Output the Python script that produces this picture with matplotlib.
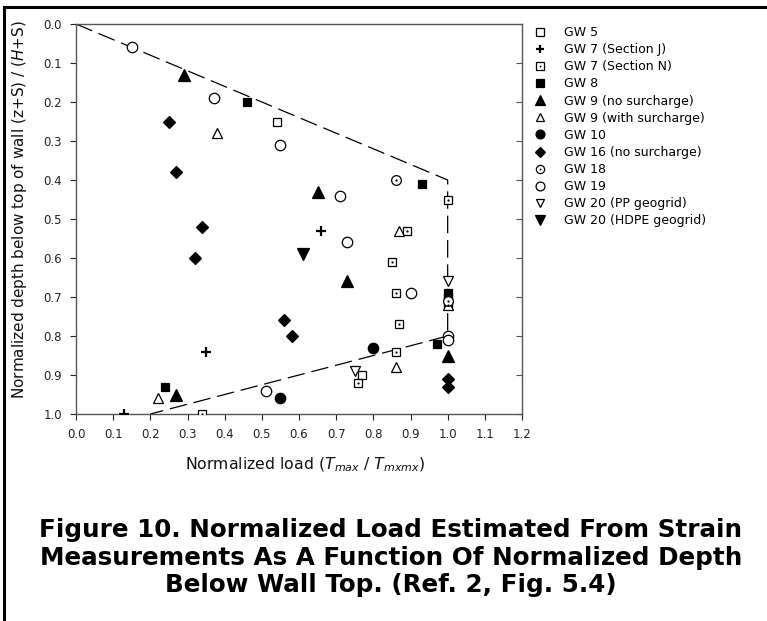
import matplotlib
matplotlib.use('Agg')
import matplotlib.pyplot as plt
from matplotlib.lines import Line2D
from matplotlib.legend_handler import HandlerTuple

plt.rcParams['font.family'] = ['DejaVu Sans']
plt.rcParams['mathtext.fontset'] = 'dejavusans'

# Data (x = normalized load, y = normalized depth)
gw5_x = [0.54, 0.77, 1.00]
gw5_y = [0.25, 0.90, 0.70]
gw7j_x = [0.13, 0.35, 0.66]
gw7j_y = [1.00, 0.84, 0.53]
gw7n_x = [1.00, 0.34, 0.89, 0.85, 0.86, 0.87, 0.86, 0.76, 1.00]
gw7n_y = [0.45, 1.00, 0.53, 0.61, 0.69, 0.77, 0.84, 0.92, 0.72]
gw8_x = [0.46, 0.93, 1.00, 1.00, 0.97, 0.24]
gw8_y = [0.20, 0.41, 0.69, 0.71, 0.82, 0.93]
gw9n_x = [0.29, 0.65, 0.73, 1.00, 0.27]
gw9n_y = [0.13, 0.43, 0.66, 0.85, 0.95]
gw9s_x = [0.38, 0.87, 0.86, 0.22, 1.00]
gw9s_y = [0.28, 0.53, 0.88, 0.96, 0.72]
gw10_x = [0.80, 0.55]
gw10_y = [0.83, 0.96]
gw16_x = [0.25, 0.27, 0.34, 0.32, 0.56, 0.58, 1.00, 1.00]
gw16_y = [0.25, 0.38, 0.52, 0.60, 0.76, 0.80, 0.91, 0.93]
gw18_x = [0.86, 1.00]
gw18_y = [0.40, 0.71]
gw19_x = [0.15, 0.37, 0.55, 0.71, 0.73, 0.90, 1.00, 1.00, 0.51]
gw19_y = [0.06, 0.19, 0.31, 0.44, 0.56, 0.69, 0.80, 0.81, 0.94]
gw20pp_x = [1.00, 0.75]
gw20pp_y = [0.66, 0.89]
gw20hd_x = [0.61]
gw20hd_y = [0.59]

# envelope (dashed)
env_x = [0.0, 1.0, 1.0, 0.2]
env_y = [0.0, 0.4, 0.8, 1.0]

x_ticks = [0.0, 0.1, 0.2, 0.3, 0.4, 0.5, 0.6, 0.7, 0.8, 0.9, 1.0, 1.1, 1.2]
y_ticks = [0.0, 0.1, 0.2, 0.3, 0.4, 0.5, 0.6, 0.7, 0.8, 0.9, 1.0]

W, H = 767, 621
fig = plt.figure(figsize=(W / 100, H / 100), dpi=100)
ax = fig.add_axes([76 / W, 1 - 414 / H, (522 - 76) / W, (414 - 24) / H])

ax.plot(env_x, env_y, color='black', lw=0.9, dashes=(14, 5.5), zorder=1)

def pts(x, y, marker, ms, filled, mew=0.9):
    return ax.plot(x, y, linestyle='none', marker=marker, ms=ms,
                   mfc='black' if filled else 'white', mec='black',
                   mew=mew, zorder=3)[0]

def dots(x, y):
    return ax.plot(x, y, linestyle='none', marker='o', ms=1.6,
                   mfc='black', mec='black', mew=0, zorder=4)[0]

h5 = pts(gw5_x, gw5_y, 's', 6, False)
h7j = pts(gw7j_x, gw7j_y, '+', 7, True, mew=1.6)
h7n = pts(gw7n_x, gw7n_y, 's', 6, False)
d7n = dots(gw7n_x, gw7n_y)
h8 = pts(gw8_x, gw8_y, 's', 6, True)
h9n = pts(gw9n_x, gw9n_y, '^', 8.5, True)
h9s = pts(gw9s_x, gw9s_y, '^', 7.5, False)
h10 = pts(gw10_x, gw10_y, 'o', 7.5, True)
h16 = pts(gw16_x, gw16_y, 'D', 6.5, True)
h18 = pts(gw18_x, gw18_y, 'o', 7, False)
d18 = dots(gw18_x, gw18_y)
h19 = pts(gw19_x, gw19_y, 'o', 7.5, False)
h20p = pts(gw20pp_x, gw20pp_y, 'v', 7.5, False)
h20h = pts(gw20hd_x, gw20hd_y, 'v', 8, True)

ax.set_xlim(0, 1.2)
ax.set_ylim(1.0, 0.0)
ax.set_xticks(x_ticks)
ax.set_xticklabels([f'{t:.1f}' for t in x_ticks])
ax.set_yticks(y_ticks)
ax.set_yticklabels([f'{t:.1f}' for t in y_ticks])
ax.tick_params(direction='out', length=4, width=0.8, labelsize=8.5, pad=6,
               colors='#222222')
for s in ax.spines.values():
    s.set_color('#555555')
    s.set_linewidth(1.0)

# right-hand ticks pointing inward
ax2 = ax.twinx()
ax2.set_ylim(1.0, 0.0)
ax2.set_yticks(y_ticks)
ax2.tick_params(direction='in', length=4, width=0.8, labelright=False,
                colors='#555555')
for s in ax2.spines.values():
    s.set_visible(False)

fig.text(305 / W, 1 - 465 / H,
         r'Normalized load ($\mathit{T}_{\mathit{max}}$ / $\mathit{T}_{\mathit{mxmx}}$)',
         ha='center', va='center', fontsize=11.3, color='#111111')
fig.text(20 / W, 1 - 210 / H,
         r'Normalized depth below top of wall (z+S) / ($\mathit{H}$+S)',
         ha='center', va='center', rotation=90, fontsize=11, color='#111111')

labels = ['GW 5', 'GW 7 (Section J)', 'GW 7 (Section N)', 'GW 8',
          'GW 9 (no surcharge)', 'GW 9 (with surcharge)', 'GW 10',
          'GW 16 (no surcharge)', 'GW 18', 'GW 19', 'GW 20 (PP geogrid)',
          'GW 20 (HDPE geogrid)']
handles = [h5, h7j, (h7n, d7n), h8, h9n, h9s, h10, h16, (h18, d18), h19,
           h20p, h20h]
fig.legend(handles, labels, loc='upper left',
           bbox_to_anchor=(527 / W, 1 - 21 / H), frameon=False,
           fontsize=9, labelspacing=0.33, handlelength=1.2,
           handletextpad=1.4, borderaxespad=0, markerscale=0.85,
           handler_map={tuple: HandlerTuple(ndivide=1, pad=0)})

caption = ['Figure 10. Normalized Load Estimated From Strain',
           'Measurements As A Function Of Normalized Depth',
           'Below Wall Top. (Ref. 2, Fig. 5.4)']
for i, line in enumerate(caption):
    fig.text(391 / W, 1 - (537 + 27.5 * i) / H, line, ha='center',
             va='baseline', fontsize=17.7, fontweight='bold', color='black')

# page frame: top and left rules
fig.add_artist(Line2D([4 / W, 1], [1 - 7 / H, 1 - 7 / H], color='black',
                      lw=2.2, transform=fig.transFigure))
fig.add_artist(Line2D([4 / W, 4 / W], [0, 1 - 7 / H], color='black',
                      lw=2.2, transform=fig.transFigure))

fig.savefig('out.png', dpi=100)
